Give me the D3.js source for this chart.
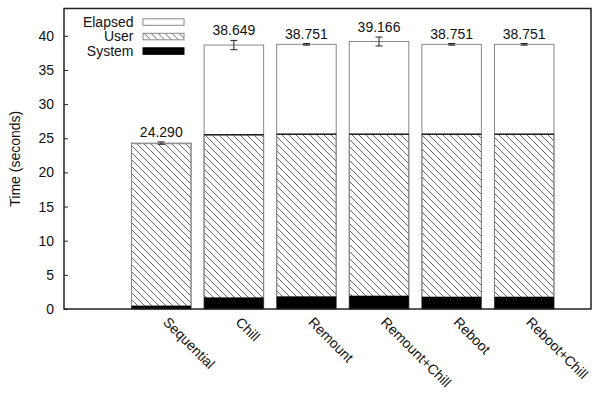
<!DOCTYPE html>
<html>
<head>
<meta charset="utf-8">
<script src="https://cdn.jsdelivr.net/npm/d3@7"></script>
<style>
  body { margin: 0; background: #fff; }
  text { font-family: "Liberation Sans", Arial, sans-serif; font-size: 14px; fill: #111; }
</style>
</head>
<body>
<div id="chart-area"></div>
<script>
// data
let categories = ["Sequential", "Chill", "Remount", "Remount+Chill", "Reboot", "Reboot+Chill"];
let elapsed = [24.290, 38.649, 38.751, 39.166, 38.751, 38.751];
let elapsedErr = [0.17, 0.68, 0.12, 0.65, 0.12, 0.12];
let user = [23.7, 23.8, 23.75, 23.65, 23.8, 23.8];
let system = [0.5, 1.7, 1.85, 1.95, 1.8, 1.8];
let yTicks = [0, 5, 10, 15, 20, 25, 30, 35, 40];
let legendNames = ["Elapsed", "User", "System"];

let W = 600, H = 397;
let frame = {left: 64, right: 591, top: 8.5, bottom: 309};

let svg = d3.select("#chart-area").append("svg")
    .attr("width", W)
    .attr("height", H);

// hatch pattern for "User"
let defs = svg.append("defs");
let pat = defs.append("pattern")
    .attr("id", "hatch")
    .attr("patternUnits", "userSpaceOnUse")
    .attr("width", 7)
    .attr("height", 7);
pat.append("path")
    .attr("d", "M0,0 L7,7 M-1,6 L1,8 M6,-1 L8,1")
    .attr("stroke", "#666")
    .attr("stroke-width", 1);

// scales
let x = d3.scaleLinear()
    .domain([-1.34, 5.92])
    .range([frame.left, frame.right]);

let y = d3.scaleLinear()
    .domain([0, 44])
    .range([frame.bottom, frame.top]);

let bw = x(0.82) - x(0);

let data = categories.map((c, i) => ({
    name: c, i: i,
    elapsed: elapsed[i], err: elapsedErr[i],
    user: user[i], system: system[i]
}));

// elapsed bars
svg.selectAll(".elapsed")
    .data(data)
  .enter().append("rect")
    .attr("class", "elapsed")
    .attr("x", d => x(d.i) - bw / 2)
    .attr("y", d => y(d.elapsed))
    .attr("width", bw)
    .attr("height", d => y(0) - y(d.elapsed))
    .attr("fill", "#fff")
    .attr("stroke", "#888")
    .attr("stroke-width", 1);

// user bars (drawn from 0 to user+system)
svg.selectAll(".user")
    .data(data)
  .enter().append("rect")
    .attr("class", "user")
    .attr("x", d => x(d.i) - bw / 2)
    .attr("y", d => y(d.user + d.system))
    .attr("width", bw)
    .attr("height", d => y(0) - y(d.user + d.system))
    .attr("fill", "url(#hatch)")
    .attr("stroke", "#888")
    .attr("stroke-width", 1);

svg.selectAll(".user-top")
    .data(data.filter(d => d.elapsed - d.user - d.system > 1))
  .enter().append("line")
    .attr("x1", d => x(d.i) - bw / 2)
    .attr("x2", d => x(d.i) + bw / 2)
    .attr("y1", d => y(d.user + d.system))
    .attr("y2", d => y(d.user + d.system))
    .attr("stroke", "#222")
    .attr("stroke-width", 1.5);

// system bars
svg.selectAll(".system")
    .data(data)
  .enter().append("rect")
    .attr("class", "system")
    .attr("x", d => x(d.i) - bw / 2)
    .attr("y", d => y(d.system))
    .attr("width", bw)
    .attr("height", d => y(0) - y(d.system))
    .attr("fill", "#000");

// error bars
let eg = svg.selectAll(".err")
    .data(data)
  .enter().append("g")
    .attr("class", "err")
    .attr("stroke", "#222")
    .attr("stroke-width", 1);
eg.append("line")
    .attr("x1", d => x(d.i)).attr("x2", d => x(d.i))
    .attr("y1", d => y(d.elapsed + d.err)).attr("y2", d => y(d.elapsed - d.err));
eg.append("line")
    .attr("x1", d => x(d.i) - 3.5).attr("x2", d => x(d.i) + 3.5)
    .attr("y1", d => y(d.elapsed + d.err)).attr("y2", d => y(d.elapsed + d.err));
eg.append("line")
    .attr("x1", d => x(d.i) - 3.5).attr("x2", d => x(d.i) + 3.5)
    .attr("y1", d => y(d.elapsed - d.err)).attr("y2", d => y(d.elapsed - d.err));

// value labels
svg.selectAll(".val")
    .data(data)
  .enter().append("text")
    .attr("class", "val")
    .attr("x", d => x(d.i))
    .attr("y", d => y(d.elapsed + d.err) - 5)
    .attr("text-anchor", "middle")
    .text(d => d.elapsed.toFixed(3));

// frame (left, top, right, bottom)
svg.append("rect")
    .attr("x", frame.left)
    .attr("y", frame.top)
    .attr("width", frame.right - frame.left)
    .attr("height", frame.bottom - frame.top)
    .attr("fill", "none")
    .attr("stroke", "#222")
    .attr("stroke-width", 1.5);

// y axis, ticks inward
let yAxis = d3.axisLeft(y)
    .tickValues(yTicks)
    .tickSize(-4)
    .tickPadding(10);
let yg = svg.append("g")
    .attr("transform", "translate(" + frame.left + ",0)")
    .call(yAxis);
yg.select(".domain").remove();
yg.selectAll(".tick line").attr("stroke", "#222");
yg.selectAll(".tick text")
    .style("font-family", '"Liberation Sans", Arial, sans-serif')
    .style("font-size", "14px")
    .attr("fill", "#111");

svg.append("text")
    .attr("transform", "translate(20," + ((frame.top + frame.bottom) / 2) + ")rotate(-90)")
    .attr("text-anchor", "middle")
    .text("Time (seconds)");

// x labels, rotated
svg.selectAll(".xlab")
    .data(data)
  .enter().append("text")
    .attr("class", "xlab")
    .attr("transform", d => "translate(" + (x(d.i) + 1) + ",323)rotate(45)")
    .attr("text-anchor", "start")
    .text(d => d.name);

// legend
let fills = ["#fff", "url(#hatch)", "#000"];
let lg = svg.selectAll(".leg")
    .data(legendNames)
  .enter().append("g")
    .attr("class", "leg")
    .attr("transform", (d, i) => "translate(0," + (21.8 + i * 14.5) + ")");
lg.append("text")
    .attr("x", 133.5)
    .attr("y", 5)
    .attr("text-anchor", "end")
    .text(d => d);
lg.append("rect")
    .attr("x", 143)
    .attr("y", -3)
    .attr("width", 41)
    .attr("height", 6.5)
    .attr("fill", (d, i) => fills[i])
    .attr("stroke", (d, i) => i == 2 ? "#000" : "#888")
    .attr("stroke-width", 1);
</script>
</body>
</html>
